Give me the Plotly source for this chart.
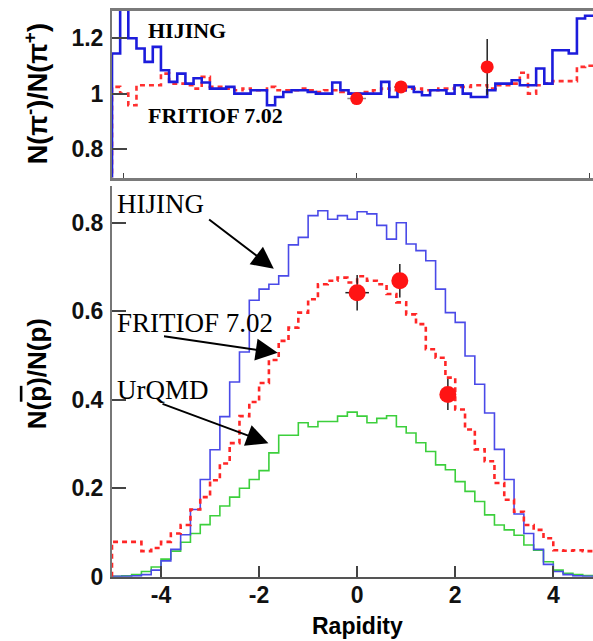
import numpy as np
import plotly.graph_objects as go

# ---------------- data ----------------
# Bottom panel: N(pbar)/N(p) histograms, 50 bins of width 0.2 from -5 to 5
BOT_LO, BOT_W = -5.0, 0.2
hijing_pbar = [0.001, 0.001, 0.002, 0.005, 0.015, 0.036, 0.062, 0.095, 0.152, 0.22,
               0.287, 0.362, 0.44, 0.508, 0.625, 0.65, 0.661, 0.68, 0.75, 0.767,
               0.816, 0.827, 0.808, 0.816, 0.808, 0.825, 0.82, 0.794, 0.763, 0.8,
               0.752, 0.737, 0.714, 0.65, 0.597, 0.575, 0.499, 0.435, 0.37, 0.288,
               0.22, 0.142, 0.098, 0.062, 0.028, 0.012, 0.005, 0.002, 0.001, 0.001]
fritiof_pbar = [0.079, 0.079, 0.079, 0.058, 0.065, 0.079, 0.098, 0.117, 0.152, 0.18,
                0.218, 0.256, 0.302, 0.363, 0.395, 0.438, 0.49, 0.533, 0.563, 0.597,
                0.627, 0.661, 0.669, 0.676, 0.665, 0.679, 0.669, 0.661, 0.639, 0.62,
                0.593, 0.571, 0.514, 0.495, 0.45, 0.378, 0.333, 0.288, 0.261, 0.212,
                0.174, 0.147, 0.117, 0.106, 0.087, 0.06, 0.059, 0.06, 0.058, 0.058]
urqmd_pbar = [0.001, 0.002, 0.005, 0.012, 0.022, 0.04, 0.058, 0.078, 0.098, 0.118,
              0.138, 0.16, 0.18, 0.2, 0.22, 0.24, 0.28, 0.32, 0.32, 0.348,
              0.339, 0.351, 0.351, 0.363, 0.372, 0.363, 0.348, 0.358, 0.364, 0.339,
              0.325, 0.303, 0.283, 0.253, 0.242, 0.215, 0.193, 0.17, 0.14, 0.117,
              0.106, 0.094, 0.072, 0.06, 0.034, 0.015, 0.008, 0.005, 0.003, 0.002]
data_pbar_x = [0.0, 0.87, 1.85]
data_pbar_y = [0.642, 0.669, 0.412]
data_pbar_yerr = [0.04, 0.038, 0.035]
data_pbar_xerr = [0.24, 0.0, 0.0]

# Top panel: N(pi-)/N(pi+) histograms, 60 bins of width 0.175 from -5.25
TOP_LO, TOP_W = -5.25, 0.175
hijing_pi = [1.144, 1.32, 1.199, 1.162, 1.114, 1.168, 1.084, 1.042, 1.072, 1.036,
             1.055, 1.04, 1.018, 1.018, 1.024, 1.0, 1.0, 1.012, 1.012, 0.958,
             0.988, 1.006, 1.012, 1.012, 1.006, 1.0, 1.0, 1.04, 1.012, 1.0,
             1.0, 1.0, 1.0, 1.042, 0.988, 1.012, 1.024, 1.006, 0.994, 1.012,
             1.012, 1.0, 1.03, 1.0, 0.988, 0.988, 1.012, 1.036, 1.036, 1.048,
             1.03, 1.03, 1.09, 1.036, 1.156, 1.156, 1.144, 1.27, 1.28, 1.28]
fritiof_pi = [1.024, 1.0, 0.958, 1.03, 1.03, 1.03, 1.072, 1.036, 1.036, 1.03,
              1.018, 1.06, 1.024, 1.024, 1.018, 1.012, 1.018, 1.012, 1.012, 1.024,
              1.012, 1.012, 1.012, 1.018, 1.012, 1.006, 1.012, 1.012, 1.006, 1.0,
              1.0, 1.006, 1.012, 1.018, 1.012, 1.012, 1.018, 1.018, 1.012, 1.012,
              1.018, 1.018, 1.024, 1.024, 1.03, 1.03, 1.018, 1.03, 1.03, 1.036,
              1.075, 1.0, 1.03, 1.036, 1.045, 1.045, 1.045, 1.096, 1.1, 1.1]
data_pi_x = [0.0, 0.95, 2.8]
data_pi_y = [0.982, 1.024, 1.096]
data_pi_yerr = [0.008, 0.008, 0.1]
data_pi_xerr = [0.2, 0.15, 0.0]

x_ticks_bot = [-4, -2, 0, 2, 4]
y_ticks_bot = [0, 0.2, 0.4, 0.6, 0.8]
y_ticks_bot_text = ["0", "0.2", "0.4", "0.6", "0.8"]
x_ticks_top = [-5, 0, 5]
y_ticks_top = [0.8, 1.0, 1.2]
y_ticks_top_text = ["0.8", "1", "1.2"]

# ---------------- helpers ----------------
W = 593
H_REF = 641        # reference picture height (pixel positions below refer to it)
H = 656            # figure height (the capture is rescaled to 641 tall)
def px(xp):
    return xp / W
def py(yp):
    return 1 - yp / H_REF

def hist_xy(lo, width, vals, base):
    edges = lo + width * np.arange(len(vals) + 1)
    xs = [edges[0]] + list(edges)
    ys = [base] + list(vals) + [vals[-1]]
    return xs, ys

fig = go.Figure()

# bottom panel histograms
for vals, color, width, dash in [
    (urqmd_pbar, "#3ccf3c", 1.6, "solid"),
    (hijing_pbar, "#4a4ae8", 1.6, "solid"),
    (fritiof_pbar, "#ff2626", 2.6, "5px,4px"),
]:
    xs, ys = hist_xy(BOT_LO, BOT_W, vals, 0.0)
    fig.add_trace(go.Scatter(x=xs, y=ys, mode="lines", line_shape="hv",
                             line=dict(color=color, width=width, dash=dash),
                             xaxis="x", yaxis="y", showlegend=False))
fig.add_trace(go.Scatter(x=data_pbar_x, y=data_pbar_y, mode="markers",
                         marker=dict(color="#ff1414", size=17),
                         error_y=dict(type="data", array=data_pbar_yerr, color="#222", thickness=1.5, width=0),
                         error_x=dict(type="data", array=data_pbar_xerr, color="#222", thickness=1.5, width=0),
                         xaxis="x", yaxis="y", showlegend=False))

# top panel histograms
for vals, color, width, dash in [
    (fritiof_pi, "#ff3030", 2.6, "5px,4px"),
    (hijing_pi, "#1c1cdc", 2.6, "solid"),
]:
    xs, ys = hist_xy(TOP_LO, TOP_W, vals, 0.0)
    fig.add_trace(go.Scatter(x=xs, y=ys, mode="lines", line_shape="hv",
                             line=dict(color=color, width=width, dash=dash),
                             xaxis="x2", yaxis="y2", showlegend=False))
fig.add_trace(go.Scatter(x=data_pi_x, y=data_pi_y, mode="markers",
                         marker=dict(color="#ff1414", size=13),
                         error_y=dict(type="data", array=data_pi_yerr, color="#222", thickness=1.5, width=0),
                         error_x=dict(type="data", array=data_pi_xerr, color="#888", thickness=1.5, width=0),
                         xaxis="x2", yaxis="y2", showlegend=False))

tickfont = dict(family="Liberation Sans, Arial, sans-serif", size=23, color="#111", weight="bold")
x_dom = [px(112), 1.0]

fig.update_layout(
    width=W, height=H, margin=dict(l=0, r=0, t=0, b=0),
    paper_bgcolor="white", plot_bgcolor="white",
    xaxis=dict(domain=x_dom, anchor="y", range=[-5.0, 4.81], tickvals=x_ticks_bot,
               ticktext=[str(v) for v in x_ticks_bot], ticks="inside", ticklen=11,
               tickwidth=1.5, tickcolor="#444", showline=True, linecolor="#555", linewidth=2,
               showgrid=False, zeroline=False, tickfont=tickfont, ticklabelstandoff=-3),
    yaxis=dict(domain=[py(575), py(185)], anchor="x", range=[0, 0.884], tickvals=y_ticks_bot,
               ticktext=y_ticks_bot_text, ticks="inside", ticklen=14, tickwidth=1.5,
               tickcolor="#444", showline=True, linecolor="#777", linewidth=2,
               showgrid=False, zeroline=False, tickfont=tickfont, ticklabelstandoff=2),
    xaxis2=dict(domain=x_dom, anchor="y2", range=[-5.25, 5.07], tickvals=x_ticks_top,
                ticks="inside", ticklen=5, tickwidth=1.2, tickcolor="#444",
                showticklabels=False, showline=True, mirror=True, linecolor="#7a7a7a",
                linewidth=3, showgrid=False, zeroline=False),
    yaxis2=dict(domain=[py(177), py(11)], anchor="x2", range=[0.698, 1.297], tickvals=y_ticks_top,
                ticktext=y_ticks_top_text, ticks="inside", ticklen=15, tickwidth=1.5,
                tickcolor="#444", showline=True, linecolor="#777", linewidth=2,
                showgrid=False, zeroline=False, tickfont=tickfont, ticklabelstandoff=2),
)

serif_b = dict(family="Liberation Serif, Times New Roman, serif", size=22, color="black", weight="bold")
serif_r = dict(family="Liberation Serif, Times New Roman, serif", size=27, color="black")
sans_b = dict(family="Liberation Sans, Arial, sans-serif", size=26, color="black", weight="bold")
sans_b_top = dict(family="Liberation Sans, Arial, sans-serif", size=27, color="black", weight="bold")

ann = []
# top panel labels
ann.append(dict(text="HIJING", x=px(146), y=py(30), xref="paper", yref="paper",
                xanchor="left", yanchor="middle", showarrow=False, font=serif_b))
ann.append(dict(text="FRITIOF 7.02", x=px(146), y=py(115), xref="paper", yref="paper",
                xanchor="left", yanchor="middle", showarrow=False, font=serif_b))
# bottom panel labels
for txt, ypix in [("HIJING", 203), ("FRITIOF 7.02", 322), ("UrQMD", 389)]:
    ann.append(dict(text=txt, x=px(115), y=py(ypix), xref="paper", yref="paper",
                    xanchor="left", yanchor="middle", showarrow=False, font=serif_r))
# arrows (tip, tail) in data coordinates of bottom panel
for (tx, ty), (sx, sy) in [((-1.70, 0.696), (-3.05, 0.81)),
                           ((-1.62, 0.506), (-3.97, 0.544)),
                           ((-1.81, 0.302), (-4.0, 0.392))]:
    ann.append(dict(x=tx, y=ty, ax=sx, ay=sy, xref="x", yref="y", axref="x", ayref="y",
                    text="", showarrow=True, arrowhead=2, arrowsize=2.2, arrowwidth=2,
                    arrowcolor="black"))
# axis titles
ann.append(dict(text="N(π<sup>-</sup>)/N(π<sup>+</sup>)", x=px(36), y=py(94), xref="paper", yref="paper",
                textangle=-90, showarrow=False, xanchor="center", yanchor="middle", font=sans_b_top))
ann.append(dict(text="N(<span style='text-decoration:overline'>p</span>)/N(p)", x=px(37), y=py(373),
                xref="paper", yref="paper",
                textangle=-90, showarrow=False, xanchor="center", yanchor="middle", font=sans_b))
ann.append(dict(text="Rapidity", x=0, y=py(624), xref="x", yref="paper",
                showarrow=False, xanchor="center", yanchor="middle",
                font=dict(family="Liberation Sans, Arial, sans-serif", size=23, color="black", weight="bold")))
fig.update_layout(annotations=ann)

fig.write_html("out.html")
